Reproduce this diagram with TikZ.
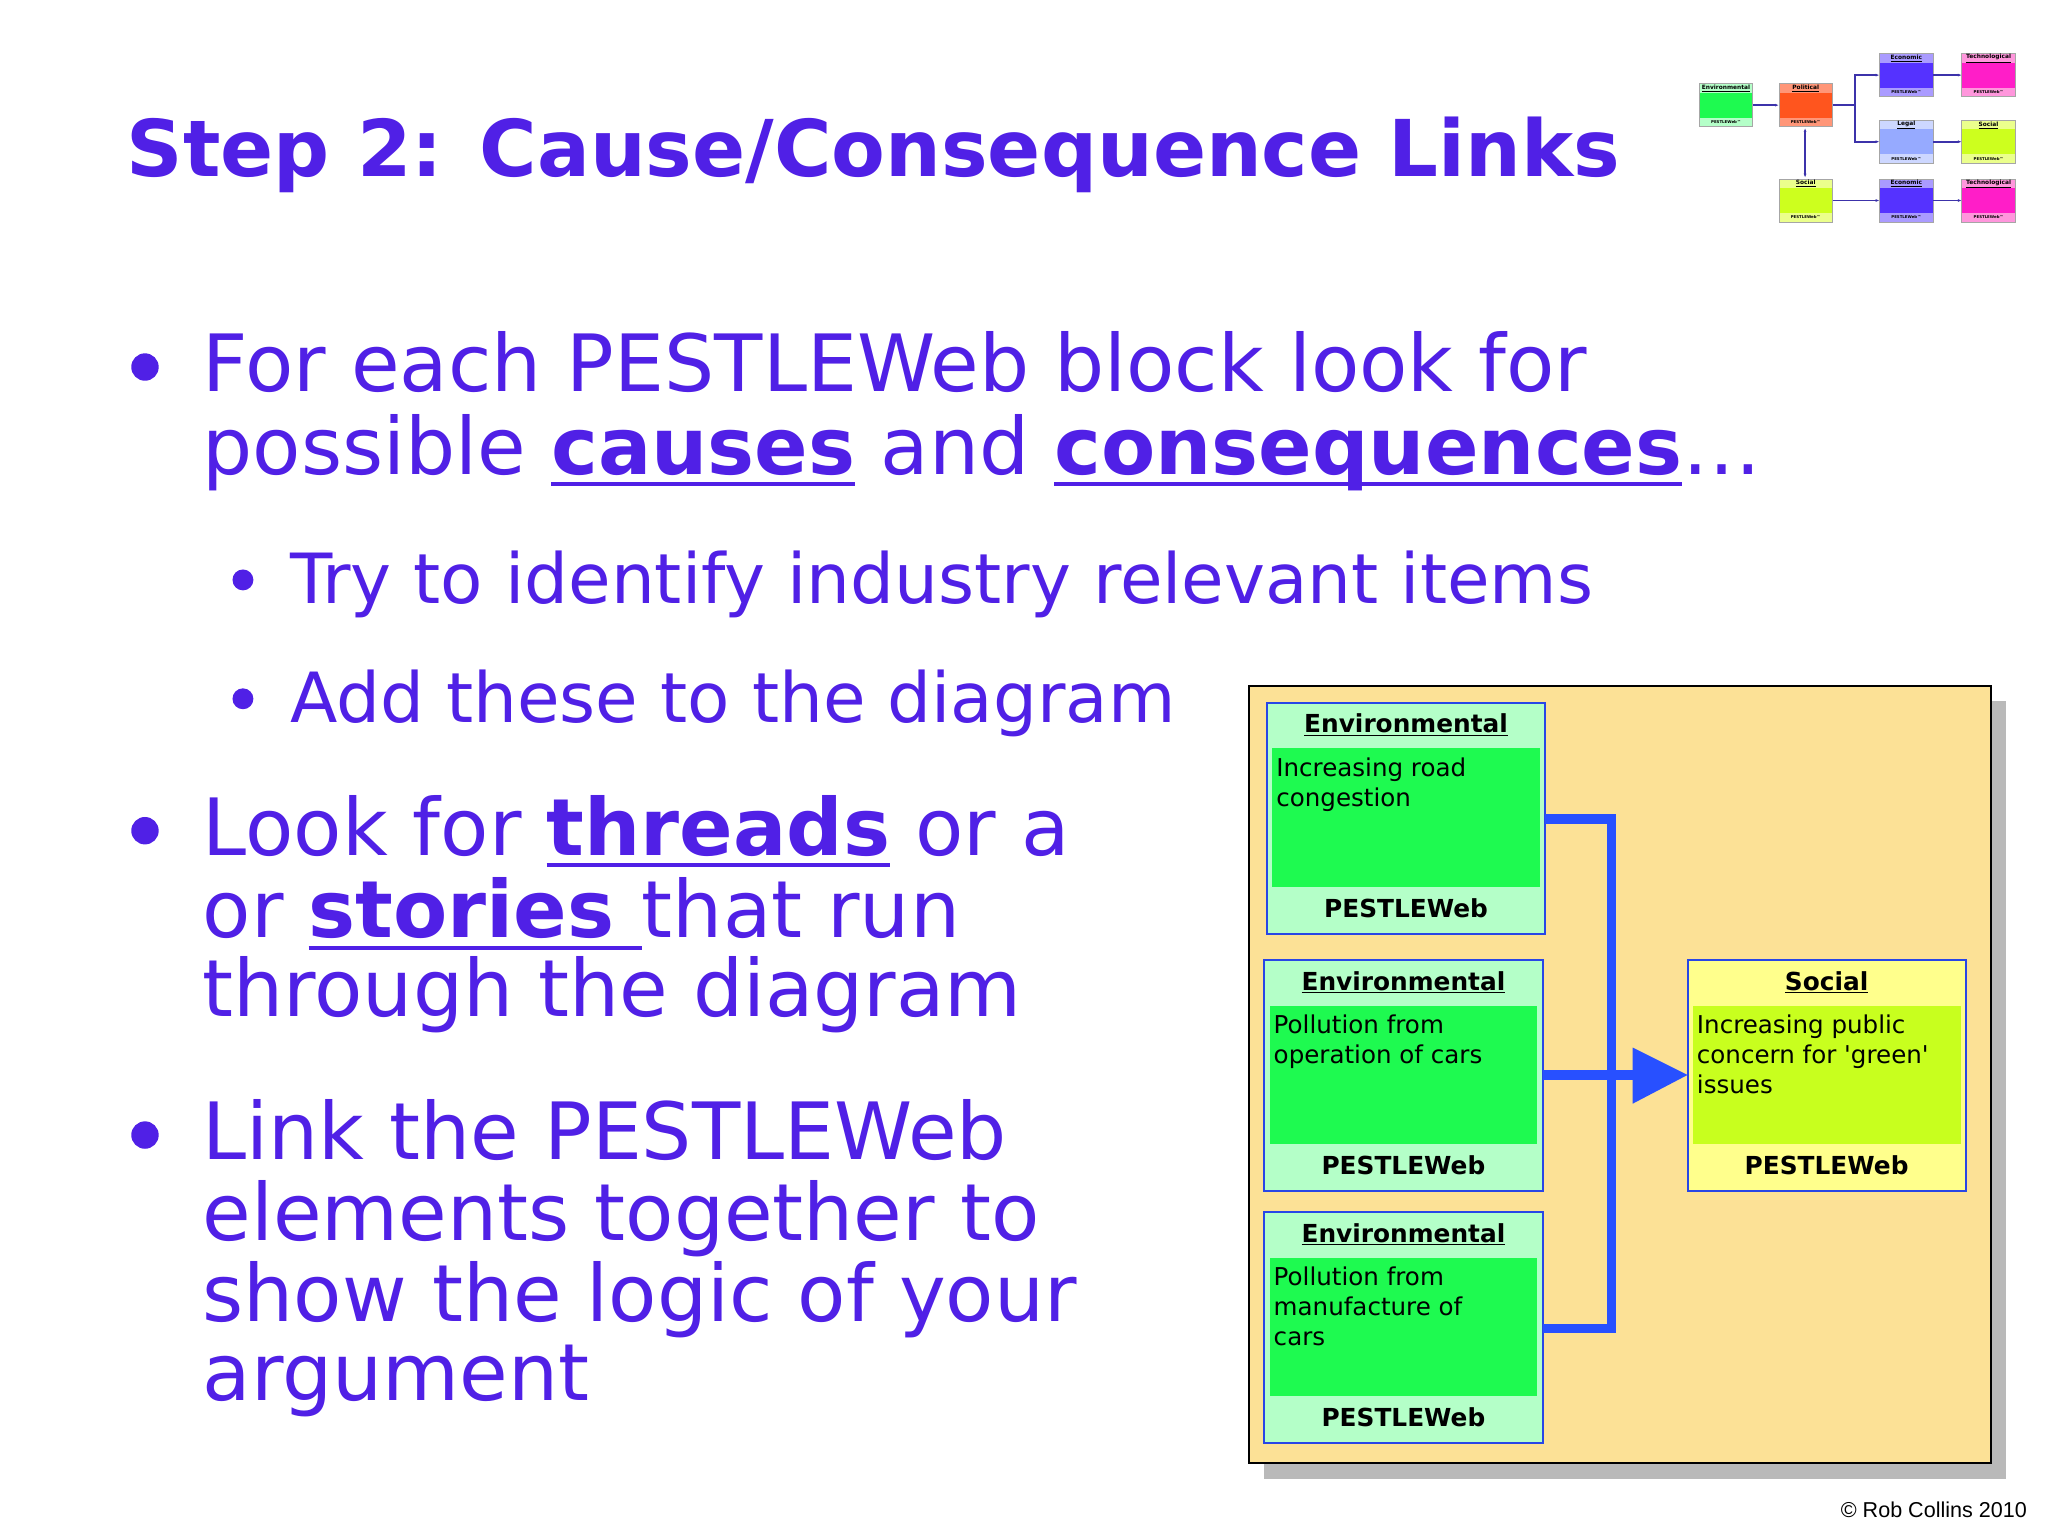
\documentclass[tikz,border=0pt]{standalone}
\usepackage{fontspec}
\setmainfont{DejaVu Sans}
\newfontfamily\arialf{Liberation Sans}
\newsavebox\ulbox
\newcommand\myul[1]{\leavevmode\sbox\ulbox{#1}\rlap{\vrule height -6pt depth 9pt width \wd\ulbox}\usebox\ulbox}
\definecolor{txt}{RGB}{80,32,230}
\definecolor{bgbox}{RGB}{252,225,150}
\definecolor{lgreen}{RGB}{180,255,200}
\definecolor{dgreen}{RGB}{30,250,80}
\definecolor{lyel}{RGB}{255,255,140}
\definecolor{dyel}{RGB}{200,255,30}
\definecolor{bline}{RGB}{40,80,255}
\definecolor{borderb}{RGB}{40,70,230}
\definecolor{ecoh}{RGB}{170,155,255}\definecolor{ecob}{RGB}{85,50,255}
\definecolor{tech}{RGB}{255,150,220}\definecolor{techb}{RGB}{255,30,200}
\definecolor{polh}{RGB}{255,150,120}\definecolor{polb}{RGB}{255,85,30}
\definecolor{legh}{RGB}{205,215,255}\definecolor{legb}{RGB}{150,170,255}
\definecolor{soch}{RGB}{235,255,140}\definecolor{socb}{RGB}{205,255,30}
\definecolor{thline}{RGB}{60,50,170}
\usetikzlibrary{arrows.meta}
\tikzset{
  line/.style={anchor=base west,text=txt,inner sep=0pt,font=\fontsize{60.5}{60}\selectfont},
  sline/.style={anchor=base west,text=txt,inner sep=0pt,font=\fontsize{53}{52}\selectfont},
  dot/.style={circle,fill=txt,inner sep=0pt,minimum size=#1},
  btxt/.style={anchor=north west,align=left,inner sep=0pt,font=\fontsize{18.8}{23}\selectfont},
  htxt/.style={inner sep=0pt,font=\bfseries\fontsize{19}{20}\selectfont},
  conn/.style={draw=bline,line width=7pt},
  tconn/.style={draw=thline,line width=1.2pt},
}
\newcommand\pbox[7]{%
  \fill[#4] (#2,#3) rectangle ++(213,177);
  \fill[#5] (#2+4,#3+35) rectangle ++(205,106);
  \draw[borderb,line width=1.5pt] (#2,#3) rectangle ++(213,177);
  \node[htxt] (#1h) at (#2+106.5,#3+17) {\underline{#6}};
  \node[btxt] (#1b) at (#2+7,#3+42) {#7};
  \node[htxt] (#1f) at (#2+106.5,#3+157) {PESTLEWeb};
  \coordinate (#1) at (#2+106.5,#3+88.5);
}
\newcommand\tbox[6]{%
  \fill[#4] (#2,#3) rectangle ++(41,33);
  \fill[#5] (#2,#3+7) rectangle ++(41,19);
  \draw[gray!70,line width=0.6pt] (#2,#3) rectangle ++(41,33);
  \node[inner sep=0pt,font=\bfseries\fontsize{4.5}{5}\selectfont] at (#2+20.5,#3+3.8) {\underline{#6}};
  \node[inner sep=0pt,font=\bfseries\fontsize{3}{3}\selectfont] at (#2+20.5,#3+29.5) {PESTLEWeb\texttrademark};
  \coordinate (#1) at (#2+20.5,#3+16.5);
  \coordinate (#1w) at (#2,#3+16.5);
  \coordinate (#1e) at (#2+41,#3+16.5);
}
\begin{document}
\begin{tikzpicture}[x=1pt,y=-1pt]
\useasboundingbox[fill=white] (0,0) rectangle (1568,1176);
\node[anchor=base west,inner sep=0pt,text=txt,font=\bfseries\fontsize{60}{58}\selectfont] (title) at (97,135) {Step 2: Cause/Consequence Links};
\node[dot=21pt] (d1) at (111,281) {};
\node[line] (l1) at (155,300) {For each PESTLEWeb block look for};
\node[line] (l2) at (155,363) {possible \myul{\textbf{causes}} and \myul{\textbf{consequences}}…};
\node[dot=16pt] (d2) at (186,444) {};
\node[sline] (s1) at (222,462) {Try to identify industry relevant items};
\node[dot=16pt] (d3) at (186,535) {};
\node[sline] (s2) at (222,553) {Add these to the diagram};
\node[dot=21pt] (d4) at (111,636) {};
\node[line] (l3) at (155,655) {Look for \myul{\textbf{threads}} or a};
\node[line] (l4) at (155,718) {or \myul{\textbf{stories }}that run};
\node[line] (l5) at (155,778) {through the diagram};
\node[dot=21pt] (d5) at (111,869) {};
\node[line] (l6) at (155,888) {Link the PESTLEWeb};
\node[line] (l7) at (155,950) {elements together to};
\node[line] (l8) at (155,1012) {show the logic of your};
\node[line] (l9) at (155,1072) {argument};
\fill[gray!55] (968,537) rectangle (1536,1132);
\draw[black,fill=bgbox,line width=1.5pt] (956,525) rectangle (1524,1120);
\pbox{e1}{970}{538}{lgreen}{dgreen}{Environmental}{Increasing road\\congestion}
\pbox{e2}{968}{735}{lgreen}{dgreen}{Environmental}{Pollution from\\operation of cars}
\pbox{e3}{968}{928}{lgreen}{dgreen}{Environmental}{Pollution from\\manufacture of\\cars}
\pbox{so}{1292}{735}{lyel}{dyel}{Social}{Increasing public\\concern for \textquotesingle green\textquotesingle\\issues}
\coordinate (j1) at (1234,627);
\coordinate (j3) at (1234,1017);
\draw[conn] (1183,627) -- (j1) -- (j3) -- (1181,1017);
\draw[conn] (1181,823) -- (1252,823);
\fill[bline] (1250,802) -- (1292,823) -- (1250,845) -- cycle;
\tbox{te}{1301}{64}{lgreen}{dgreen}{Environmental}
\tbox{tp}{1362}{64}{polh}{polb}{Political}
\tbox{tec1}{1439}{41}{ecoh}{ecob}{Economic}
\tbox{tt1}{1502}{41}{tech}{techb}{Technological}
\tbox{tl}{1439}{92}{legh}{legb}{Legal}
\tbox{ts1}{1502}{92}{soch}{socb}{Social}
\tbox{ts2}{1362}{137}{soch}{socb}{Social}
\tbox{tec2}{1439}{137}{ecoh}{ecob}{Economic}
\tbox{tt2}{1502}{137}{tech}{techb}{Technological}
\draw[tconn,-{Latex[length=3pt]}] (tee) -- (tpw);
\draw[tconn,-{Latex[length=3pt]}] (tpe) -- (1420,80.5) |- (tec1w);
\draw[tconn,-{Latex[length=3pt]}] (1420,80.5) |- (tlw);
\draw[tconn,-{Latex[length=3pt]}] (tec1e) -- (tt1w);
\draw[tconn,-{Latex[length=3pt]}] (tle) -- (ts1w);
\draw[tconn,{Latex[length=3pt]}-{Latex[length=3pt]}] (1382,98) -- (1382,136);
\draw[tconn,-{Latex[length=3pt]}] (ts2e) -- (tec2w);
\draw[tconn,-{Latex[length=3pt]}] (tec2e) -- (tt2w);
\node[anchor=base east,inner sep=0pt,font=\arialf\fontsize{16.5}{16}\selectfont] (copy) at (1552,1162) {© Rob Collins 2010};
\end{tikzpicture}
\end{document}
